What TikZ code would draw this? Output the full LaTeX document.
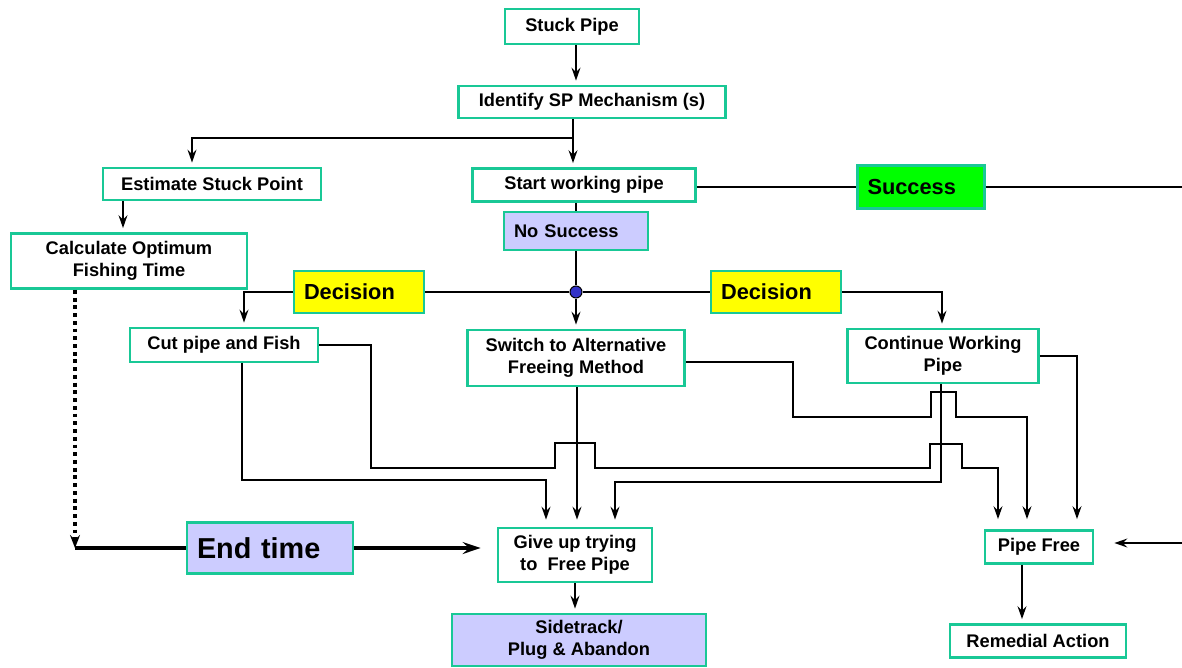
\documentclass[tikz,border=0pt]{standalone}
\usepackage{fontspec}
\setmainfont{Liberation Sans}
\usepackage{tikz}
\usetikzlibrary{arrows.meta}
\definecolor{boxgreen}{RGB}{25,200,150}
\definecolor{lavender}{RGB}{204,204,255}
\definecolor{decyellow}{RGB}{255,255,0}
\definecolor{okgreen}{RGB}{0,255,0}
\definecolor{dotblue}{RGB}{50,50,200}
\tikzstyle{-}      = [draw, line width=0.9pt]
\tikzstyle{->}     = [draw, line width=0.9pt, shorten >=0.08cm, -{Stealth[length=0.26cm, width=0.18cm, inset=0.09cm]}]
\tikzstyle{bold}   = [draw, line width=2pt]
\tikzstyle{bold->} = [draw, line width=2pt, shorten >=0.32cm, -{Stealth[length=0.36cm, width=0.24cm, inset=0.13cm]}]
\tikzstyle{dots}   = [draw, line width=2.2pt, dash pattern=on 2.2pt off 2.2pt, -{Stealth[length=0.26cm, width=0.2cm, inset=0.09cm]}]
\tikzstyle{box}    = [draw=boxgreen, line width=1.6pt, fill=white, align=center, inner sep=0pt, font=\bfseries\fontsize{10.4}{12.5}\selectfont]
\tikzstyle{tag}    = [box, align=left, inner xsep=0.2cm]
\tikzstyle{o}      = [draw, circle, fill=dotblue, line width=0.6pt, inner sep=0pt, minimum size=0.24cm]
\tikzset{wh/.style 2 args={minimum width=#1*0.02cm, minimum height=#2*0.02cm}}
\newcommand{\bigtag}{\bfseries\fontsize{12.4}{14}\selectfont}

\begin{document}
\begin{tikzpicture}[x=0.02cm, y=-0.02cm]
\useasboundingbox (0,0) rectangle (1182,667);

% nodes
\node [box, wh={134}{35}]                               at ( 572, 26.5) (stuck)  {Stuck Pipe};
\node [box, wh={267}{32}]                               at ( 592, 102 ) (ident)  {Identify SP Mechanism (s)};
\node [box, wh={218}{32}]                               at ( 212, 184 ) (est)    {Estimate Stuck Point};
\node [box, wh={236}{55}]                               at ( 129, 261 ) (calc)   {Calculate Optimum\\Fishing Time};
\node [box, wh={223}{33}]                               at ( 584, 185 ) (start)  {Start working pipe};
\node [tag, fill=okgreen, text width=2.14cm, minimum height=0.86cm, font=\bigtag]
                                                        at ( 921, 187 ) (succ)   {Success};
\node [tag, fill=lavender, text width=2.48cm, minimum height=0.76cm]
                                                        at ( 576, 231 ) (nosucc) {No Success};
\node [o]                                               at ( 576, 292 ) (dot)    {};
\node [tag, fill=decyellow, text width=2.2cm, minimum height=0.84cm, font=\bigtag]
                                                        at ( 359, 292 ) (dec1)   {Decision};
\node [tag, fill=decyellow, text width=2.2cm, minimum height=0.84cm, font=\bigtag]
                                                        at ( 776, 292 ) (dec2)   {Decision};
\node [box, wh={188}{34}]                               at ( 224, 345 ) (cut)    {Cut pipe and Fish};
\node [box, wh={217}{56}]                               at ( 576, 358 ) (switch) {Switch to Alternative\\Freeing Method};
\node [box, wh={191}{54}]                               at ( 943, 356 ) (cont)   {Continue Working\\Pipe};
\node [box, wh={154}{54}]                               at ( 575, 555 ) (giveup) {Give up trying\\to\ \ Free Pipe};
\node [box, fill=lavender, wh={254}{52}]                at ( 579, 640 ) (side)   {Sidetrack/\\Plug \& Abandon};
\node [tag, fill=lavender, text width=2.92cm, minimum height=1.02cm, font=\bfseries\fontsize{16.4}{18}\selectfont]
                                                        at ( 270, 548 ) (endt)   {End time};
\node [box, wh={108}{33}]                               at (1039, 547 ) (free)   {Pipe Free};
\node [box, wh={176}{33}]                               at (1038, 641 ) (rem)    {Remedial Action};
\coordinate (rtop) at (1182, 187);
\coordinate (rbot) at (1182, 543);
\coordinate (bend) at (  75, 548);

% edges
\path [->] (stuck.south -| 576,0) -- (ident.north -| 576,0);
\path [->] (ident.south -| 573,0) -- (573,138) -| (est.north -| 192,0);
\path [->] (573,138) -- (start.north -| 573,0);
\path [->] (est.south -| 123,0) -- (calc.north -| 123,0);
\path [-]  (start.east |- succ) -- (succ.west);
\path [-]  (succ.east) -- (rtop);
\path [-]  (start.south -| nosucc) -- (nosucc.north);
\path [-]  (nosucc.south) -- (dot);
\path [-]  (dot) -- (dec1.east);
\path [->] (dec1.west) -| (cut.north -| 244,0);
\path [-]  (dot) -- (dec2.west);
\path [->] (dec2.east) -| (cont.north -| 942,0);
\path [->] (dot) -- (switch.north);
\path [->, shorten >=0.2cm] (cut.east) -| (371,468) -- (555,468) -- (555,443) -- (595,443) -- (595,468)
           -- (930,468) -- (930,444) -- (962,444) -- (962,468) -| (free.north -| 998,0);
\path [->, shorten >=0.14cm] (cut.south -| 242,0) |- (546,480) -- (giveup.north -| 546,0);
\path [->, shorten >=0.14cm] (switch.south -| 577,0) -- (giveup.north -| 577,0);
\path [->, shorten >=0.14cm] (cont.south -| 941,0) |- (615,482) -- (giveup.north -| 615,0);
\path [->, shorten >=0.2cm] (switch.east |- 0,362) -| (793,417) -- (931,417) -- (931,392) -- (956,392) -- (956,417)
           -| (free.north -| 1027,0);
\path [->, shorten >=0.2cm] (cont.east) -| (free.north -| 1077,0);
\path [dots] (calc.south -| bend) -- (bend);
\path [bold] (bend) -- (endt.west);
\path [bold->] (endt.east) -- (giveup.west |- endt.east);
\path [->, shorten >=0.4cm] (rbot) -- (free.east |- rbot);
\path [->] (giveup.south) -- (giveup.south |- side.north);
\path [->] (free.south -| 1022,0) -- (rem.north -| 1022,0);

\end{tikzpicture}
\end{document}
